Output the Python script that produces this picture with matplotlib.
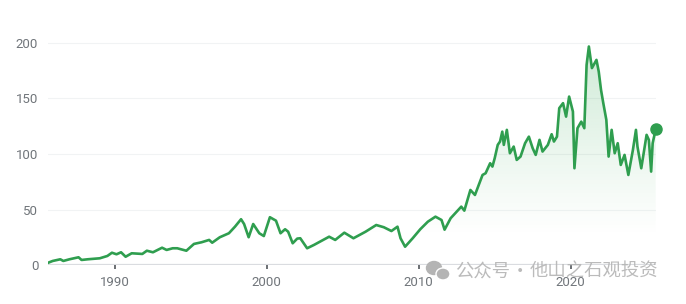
import numpy as np
import matplotlib
matplotlib.use('Agg')
import matplotlib.pyplot as plt
from matplotlib.patches import Ellipse

# 股价走势
years = [1985.6, 1985.9, 1986.4, 1986.6, 1987.0, 1987.6, 1987.8, 1988.2, 1989.0, 1989.5,
         1989.8, 1990.1, 1990.4, 1990.7, 1991.1, 1991.8, 1992.1, 1992.5, 1993.1, 1993.4,
         1993.8, 1994.1, 1994.7, 1995.2, 1995.7, 1996.2, 1996.4, 1996.9, 1997.5, 1997.9,
         1998.3, 1998.5, 1998.8, 1999.1, 1999.5, 1999.8, 2000.2, 2000.6, 2000.9, 2001.2,
         2001.4, 2001.7, 2002.0, 2002.2, 2002.65, 2003.1, 2004.1, 2004.5, 2005.1, 2005.7,
         2006.5, 2007.2, 2007.7, 2008.2, 2008.6, 2008.8, 2009.1, 2009.6, 2010.1, 2010.6,
         2011.1, 2011.5, 2011.7, 2012.1, 2012.8, 2013.0, 2013.4, 2013.7, 2014.2, 2014.4,
         2014.7, 2014.85, 2015.0, 2015.2, 2015.35, 2015.5, 2015.6, 2015.8, 2016.0, 2016.25,
         2016.45, 2016.7, 2017.0, 2017.25, 2017.5, 2017.7, 2017.95, 2018.15, 2018.5, 2018.75,
         2018.9, 2019.1, 2019.25, 2019.5, 2019.7, 2019.9, 2020.15, 2020.25, 2020.45, 2020.7,
         2020.9, 2021.05, 2021.2, 2021.4, 2021.7, 2021.85, 2022.0, 2022.15, 2022.35, 2022.5,
         2022.7, 2022.9, 2023.1, 2023.3, 2023.55, 2023.8, 2024.1, 2024.3, 2024.4, 2024.65,
         2025.0, 2025.15, 2025.3, 2025.4, 2025.6]
prices = [2.3, 3.9, 5.4, 3.9, 5.4, 7.2, 4.8, 5.4, 6.3, 8.4,
          11.3, 9.9, 11.7, 7.7, 10.8, 10.2, 13.1, 11.7, 15.8, 13.8,
          15.3, 15.3, 13.1, 19.2, 20.7, 22.8, 20.3, 25.2, 28.8, 34.7,
          41.4, 37.1, 25.2, 37.1, 28.8, 26.3, 43.2, 40.1, 28.8, 32.4,
          30.2, 19.8, 24.0, 24.3, 15.3, 18.3, 25.7, 22.8, 29.3, 24.3,
          30.2, 36.2, 34.2, 30.8, 34.7, 24.3, 16.7, 24.3, 32.4, 39.2,
          43.7, 40.7, 32.0, 42.3, 52.7, 49.1, 67.7, 63.2, 81.2, 82.7,
          91.7, 88.7, 96.2, 108.2, 111.2, 120.1, 108.2, 121.7, 100.7, 106.7,
          94.7, 97.7, 109.7, 115.6, 105.2, 99.2, 112.7, 102.2, 108.2, 117.8,
          111.2, 115.6, 141.2, 145.7, 133.6, 151.6, 138.1, 87.2, 123.2, 129.1,
          123.2, 180.0, 196.6, 177.2, 184.6, 174.1, 157.6, 145.7, 130.7, 97.7,
          121.7, 100.7, 109.7, 90.2, 99.2, 81.2, 103.7, 121.7, 106.7, 87.2,
          117.2, 112.7, 84.2, 109.7, 122.3]
x_ticks = [1990, 2000, 2010, 2020]
y_ticks = [0, 50, 100, 150, 200]

green = '#2f9e4f'
W, H = 686, 304
fig = plt.figure(figsize=(W / 100, H / 100), dpi=100)
ax = fig.add_axes([48 / W, 38.7 / H, 608 / W, 233.7 / H])
ax.set_xlim(1985.59, 2025.62)
ax.set_ylim(0, 210)

# 渐变填充
poly = ax.fill_between(years, prices, 0, facecolor='none', edgecolor='none')
grad = np.zeros((256, 2, 4))
grad[:, :, :3] = matplotlib.colors.to_rgb('#34a853')
alpha = np.clip((np.linspace(0, 210, 256) - 25) / 185, 0, 1) ** 1.1 * 0.26
grad[:, :, 3] = alpha[:, None]
img = ax.imshow(grad, extent=[1985.59, 2025.62, 0, 210], origin='lower',
                aspect='auto', zorder=1)
img.set_clip_path(poly.get_paths()[0], transform=ax.transData)

ax.plot(years, prices, color=green, lw=1.9, zorder=3)
ax.plot(years[-1], prices[-1], 'o', color=green, ms=8, zorder=4, clip_on=False)

for y in y_ticks[1:]:
    ax.axhline(y, color='#f1f3f4', lw=0.8, zorder=0)
ax.axhline(0, color='#dadce0', lw=1.6, zorder=2)

for s in ax.spines.values():
    s.set_visible(False)
ax.set_xticks(x_ticks)
ax.set_yticks(y_ticks)
ax.tick_params(axis='y', length=0, pad=7, labelsize=9.5, labelcolor='#70757a')
ax.tick_params(axis='x', length=3, width=1.3, color='#5f6368', pad=5,
               labelsize=9.5, labelcolor='#70757a')
for lab in ax.get_xticklabels() + ax.get_yticklabels():
    lab.set_fontfamily('Roboto')

# 水印
wm = dict(fontsize=13.2, color='#b4b4b4', family=['Noto Sans CJK SC', 'DejaVu Sans'],
          va='center', alpha=0.9, zorder=10)
fig.text(455 / W, 1 - 271.5 / H, '公众号', ha='left', **wm)
fig.text(520 / W, 1 - 271.5 / H, '·', ha='center', **wm)
fig.text(530 / W, 1 - 271.5 / H, '他山之石观投资', ha='left', **wm)
fig.add_artist(Ellipse((434 / W, 1 - 268 / H), 15 / W, 13 / H,
                       transform=fig.transFigure, color='#b4b4b4', zorder=10))
fig.add_artist(Ellipse((443 / W, 1 - 274 / H), 14 / W, 12 / H,
                       transform=fig.transFigure, facecolor='#b4b4b4',
                       edgecolor='white', lw=1, zorder=11))

fig.savefig('out.png', dpi=100)
